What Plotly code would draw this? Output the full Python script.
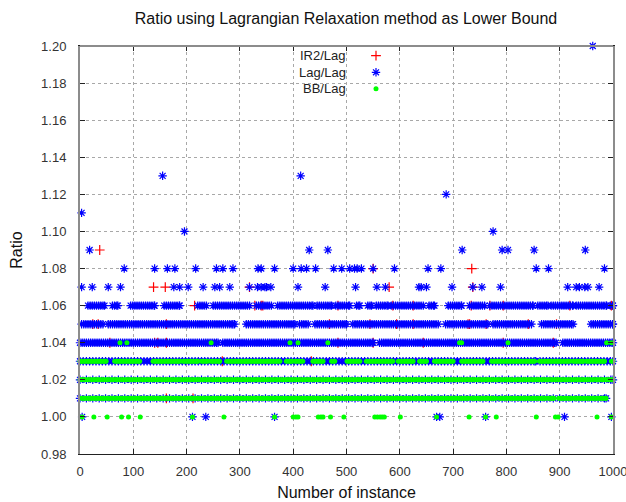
import plotly.graph_objects as go

# ---------------- data ----------------
# isolated markers: (ratio level, instance numbers)
ir2_levels = [1.09, 1.08, 1.07, 1.06, 1.05, 1.04, 1.03, 1.01]
ir2_instances = [
    [37],
    [550, 735],
    [138, 160, 318, 580, 737],
    [215, 328, 340, 343, 484, 587, 625, 734, 769, 794, 919, 997],
    [24, 34, 162, 468, 544, 594, 625, 728, 731, 762, 841, 894],
    [56, 140, 146, 162, 484, 550, 644, 794, 888],
    [267, 434],
    [162, 212],
]

lag_levels = [1.20, 1.13, 1.12, 1.11, 1.10, 1.09, 1.08, 1.07, 1.00]
lag_instances = [
    [962],
    [155, 414],
    [687],
    [3],
    [196, 775],
    [18, 430, 465, 717, 792, 803, 852, 948],
    [83, 140, 164, 178, 217, 256, 268, 287, 334, 340, 365, 400, 415, 425, 442,
     476, 491, 506, 515, 520, 528, 550, 590, 653, 677, 856, 879, 984],
    [3, 23, 53, 76, 176, 187, 203, 231, 253, 262, 281, 318, 333, 340, 347, 350,
     358, 409, 460, 517, 557, 573, 636, 640, 650, 698, 737, 754, 789, 915, 931,
     937, 947, 953, 974],
    [4, 211, 236, 365, 669, 675, 761, 909, 997],
]

bb_levels = [1.04, 1.00]
bb_instances = [
    [75, 88, 246, 394, 409, 465, 712, 716, 803, 988, 997],
    [4, 26, 51, 78, 91, 113, 211, 270, 365, 400, 405, 409, 447, 452, 456, 470,
     495, 553, 558, 563, 567, 571, 601, 669, 730, 761, 781, 856, 892, 897, 970, 997],
]

# bands of markers: (ratio level, marker spacing in instances,
#                    [(first instance, last instance), ...])
lag_band_levels = [1.06, 1.05, 1.04, 1.03, 1.02, 1.01]
lag_band_spacing = [4, 4, 4, 6, 12, 12]
lag_band_runs = [
    [(15, 46), (61, 71), (95, 140), (158, 187), (221, 237), (250, 318), (331, 359),
     (371, 437), (445, 472), (480, 506), (519, 525), (540, 547), (556, 578),
     (584, 644), (655, 665), (691, 716), (731, 759), (769, 850), (859, 878),
     (884, 925), (931, 988), (995, 1000)],
    [(3, 43), (53, 287), (290, 290), (312, 403), (412, 428), (441, 500), (512, 672),
     (686, 765), (775, 847), (866, 925), (959, 1000)],
    [(0, 259), (268, 550), (562, 893), (906, 1000)],
    [(0, 855), (863, 1000)],
    [(0, 1000)],
    [(0, 987)],
]

bb_band_levels = [1.03, 1.02, 1.01]
bb_band_spacing = [3, 3, 3]
bb_band_runs = [
    [(0, 49), (65, 112), (137, 187), (193, 221), (228, 240), (246, 262), (275, 312),
     (315, 375), (387, 397), (403, 418), (437, 456), (472, 478), (501, 525),
     (537, 587), (597, 625), (637, 650), (665, 700), (716, 756), (772, 853),
     (862, 919), (925, 944), (950, 984), (997, 1000)],
    [(0, 812), (817, 1000)],
    [(3, 47), (51, 160), (164, 210), (214, 729), (735, 780), (787, 874), (879, 889),
     (898, 924), (929, 987)],
]

series_names = ["IR2/Lag", "Lag/Lag", "BB/Lag"]
series_colors = ["#ff0000", "#0000ff", "#00ff00"]

x_ticks = list(range(0, 1001, 100))
y_ticks = [0.98, 1.00, 1.02, 1.04, 1.06, 1.08, 1.10, 1.12, 1.14, 1.16, 1.18, 1.20]


def points(levels, instances, band_levels=(), band_spacing=(), band_runs=()):
    xs, ys = [], []
    for lv, inst in zip(levels, instances):
        xs += inst
        ys += [lv] * len(inst)
    for lv, step, runs in zip(band_levels, band_spacing, band_runs):
        for a, b in runs:
            seq = list(range(a, b + 1, step))
            if seq[-1] != b:
                seq.append(b)
            xs += seq
            ys += [lv] * len(seq)
    return xs, ys


ir2_x, ir2_y = points(ir2_levels, ir2_instances)
lag_x, lag_y = points(lag_levels, lag_instances, lag_band_levels, lag_band_spacing,
                      lag_band_runs)
bb_x, bb_y = points(bb_levels, bb_instances, bb_band_levels, bb_band_spacing,
                    bb_band_runs)

FONT = "Liberation Sans, Arial, sans-serif"


def marker_style(sym, col):
    if sym == "circle":
        return dict(symbol=sym, size=5, color=col, line=dict(width=0))
    return dict(symbol=sym, size=7, color=col, line=dict(color=col, width=1.2))


key_symbols = ["cross-thin", "asterisk-open", "circle"]

fig = go.Figure()
for name, col, sym, xs, ys in zip(series_names, series_colors, key_symbols,
                                  [ir2_x, lag_x, bb_x], [ir2_y, lag_y, bb_y]):
    fig.add_trace(go.Scatter(x=xs, y=ys, mode="markers", name=name,
                             cliponaxis=False, showlegend=False,
                             marker=marker_style(sym, col)))

# key symbols on an overlay axis measured in pixels
key_px_x = 376
key_px_y = [55.7, 72.3, 88.8]
for name, col, sym, py in zip(series_names, series_colors, key_symbols, key_px_y):
    fig.add_trace(go.Scatter(x=[key_px_x], y=[502 - py], xaxis="x2", yaxis="y2",
                             mode="markers", marker=marker_style(sym, col),
                             showlegend=False, hoverinfo="skip", cliponaxis=False))
    fig.add_annotation(xref="paper", yref="paper", x=(348 - 80) / 533,
                       y=1 - (py - 46) / 408, text=name, showarrow=False,
                       xanchor="right", yanchor="middle",
                       font=dict(family=FONT, size=13, color="#222"))

fig.add_shape(type="rect", xref="paper", yref="paper", x0=(290 - 80) / 533,
              x1=(405 - 80) / 533, y0=1 - (99 - 46) / 408, y1=1,
              fillcolor="white", line=dict(width=0), layer="between")
# top border (grey like the reference)
fig.add_shape(type="line", xref="paper", yref="paper", x0=0, x1=1, y0=1, y1=1,
              line=dict(color="#8c8c8c", width=2), layer="above")

fig.update_layout(
    width=626, height=502,
    margin=dict(l=80, r=13, t=46, b=48, autoexpand=False),
    paper_bgcolor="white", plot_bgcolor="white",
    font=dict(family=FONT, size=13, color="#333"),
    title=dict(text="Ratio using Lagrangian Relaxation method as Lower Bound",
               x=346 / 626, xanchor="center", y=1 - 18 / 502, yanchor="middle",
               font=dict(family=FONT, size=16, color="#111")),
    xaxis=dict(range=[0, 1000], tickvals=x_ticks, ticktext=[str(v) for v in x_ticks],
               automargin=False, ticklabeloverflow="allow",
               showgrid=True, gridcolor="#a8a8a8", griddash="dot", gridwidth=1,
               zeroline=False, showline=True, linecolor="#222", linewidth=1,
               mirror="ticks", ticks="inside", ticklen=5, tickcolor="#222",
               ticklabelstandoff=5, tickfont=dict(size=13, color="#333"),
               title=dict(text="Number of instance", standoff=9,
                          font=dict(family=FONT, size=16, color="#111"))),
    yaxis=dict(range=[0.98, 1.20], tickvals=y_ticks,
               ticktext=[f"{v:.2f}" for v in y_ticks], automargin=False,
               ticklabeloverflow="allow",
               showgrid=True, gridcolor="#a8a8a8", griddash="dot", gridwidth=1,
               zeroline=False, showline=True, linecolor="#8c8c8c", linewidth=2,
               mirror="ticks", ticks="inside", ticklen=5, tickcolor="#222",
               ticklabelstandoff=9, tickfont=dict(size=13, color="#333"),
               title=dict(text="Ratio", standoff=14,
                          font=dict(family=FONT, size=16, color="#111"))),
    xaxis2=dict(range=[80, 613], overlaying="x", anchor="y2", visible=False,
                showgrid=False, automargin=False),
    yaxis2=dict(range=[502 - 454, 502 - 46], overlaying="y", anchor="x2",
                visible=False, showgrid=False, automargin=False),
    showlegend=False,
)

fig.write_html("out.html")
